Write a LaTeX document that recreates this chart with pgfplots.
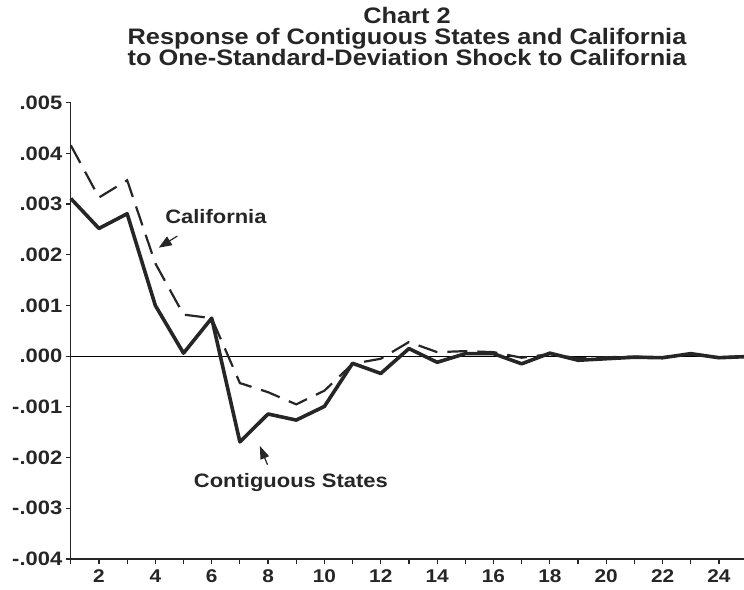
\documentclass[border=0pt]{standalone}
\usepackage{pgfplots}
\pgfplotsset{compat=1.18}
\usepackage{fontspec}
\setmainfont{Liberation Sans}
\newfontfamily\widefont[FakeStretch=1.13]{Liberation Sans}
\usetikzlibrary{arrows.meta}
\definecolor{ink}{HTML}{262626}
\begin{document}
\begin{tikzpicture}
\useasboundingbox (-70.8bp,-31bp) rectangle (673.2bp,559bp);
\begin{axis}[
  at={(0,0)}, anchor=south west,
  scale only axis,
  width=673.5bp, height=456.3bp,
  xmin=1, xmax=24.9,
  ymin=-0.004, ymax=0.005,
  axis lines*=left,
  axis line style={ink, line width=1.4bp},
  xtick={2,4,...,24},
  xticklabels={2,4,6,8,10,12,14,16,18,20,22,24},
  minor xtick={1,3,...,23},
  ytick={-0.004,-0.003,-0.002,-0.001,0,0.001,0.002,0.003,0.004,0.005},
  yticklabels={-.004,-.003,-.002,-.001,.000,.001,.002,.003,.004,.005},
  scaled y ticks=false,
  tick align=outside,
  major tick length=5bp, minor tick length=5bp,
  tick style={ink, line width=1.2bp},
  xticklabel style={font=\widefont\fontsize{18.5}{18.5}\selectfont\bfseries, text=ink, yshift=-2bp},
  yticklabel style={font=\widefont\fontsize{19.5}{19.5}\selectfont\bfseries, text=ink, xshift=0bp},
  clip=false,
]
\addplot[black, line width=1.3bp, forget plot] coordinates {(1,0) (24.9,0)};
% California (dashed)
\addplot[ink, line width=2.2bp, dash pattern=on 20bp off 10bp] coordinates {
(1,0.00416) (2,0.00313) (3,0.00347) (4,0.00183) (5,0.00082) (6,0.00075)
(7,-0.00053) (8,-0.00071) (9,-0.00095) (10,-0.00068) (11,-0.00015) (12,-0.00005)
(13,0.00028) (14,0.00008) (15,0.00010) (16,0.00008) (17,-0.00003) (18,0.00004)
(19,-0.00004) (20,-0.00002) (21,-0.00001) (22,-0.00002) (23,0.00003) (24,-0.00002) (24.9,0.0)
};
% Contiguous States (solid)
\addplot[ink, line width=3.6bp, line join=round] coordinates {
(1,0.00311) (2,0.00252) (3,0.00281) (4,0.00100) (5,0.00006) (6,0.00075)
(7,-0.00169) (8,-0.00114) (9,-0.00126) (10,-0.00099) (11,-0.00014) (12,-0.00034)
(13,0.00015) (14,-0.00012) (15,0.00005) (16,0.00005) (17,-0.00015) (18,0.00006)
(19,-0.00008) (20,-0.00005) (21,-0.00002) (22,-0.00003) (23,0.00005) (24,-0.00003) (24.9,-0.00001)
};
\node[font=\widefont\fontsize{19.5}{19.5}\selectfont\bfseries, text=ink] at (axis cs:6.15,0.00276) {California};
\draw[ink, line width=1.2bp, -{Triangle[length=13bp,width=10bp]}] (axis cs:4.78,0.00237) -- (axis cs:4.12,0.00214);
\node[font=\widefont\fontsize{19.5}{19.5}\selectfont\bfseries, text=ink] at (axis cs:8.81,-0.00249) {Contiguous States};
\draw[ink, line width=1.2bp, -{Triangle[length=13bp,width=9bp]}] (axis cs:7.98,-0.00214) -- (axis cs:7.71,-0.00177);
\end{axis}
\node[anchor=base, font=\widefont\fontsize{22.5}{22.5}\selectfont\bfseries, text=ink] at (336.2bp,535bp) {Chart 2};
\node[anchor=base, font=\widefont\fontsize{22.5}{22.5}\selectfont\bfseries, text=ink] at (336.2bp,514bp) {Response of Contiguous States and California};
\node[anchor=base, font=\widefont\fontsize{22.5}{22.5}\selectfont\bfseries, text=ink] at (336.2bp,493bp) {to One-Standard-Deviation Shock to California};
\end{tikzpicture}
\end{document}
